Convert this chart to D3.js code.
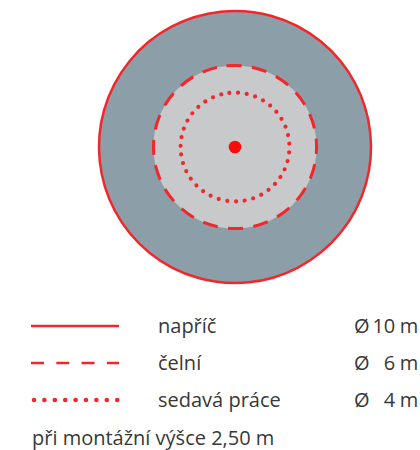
<!DOCTYPE html>
<html>
<head>
<meta charset="utf-8">
<script src="https://cdn.jsdelivr.net/npm/d3@7"></script>
<style>
  body { margin: 0; background: #fff; }
  text { font-family: "Open Sans", sans-serif; fill: #383838; }
</style>
</head>
<body>
<svg id="chart" width="420" height="450"></svg>
<script>
  // zones of the sensor, diameter in metres
  var labels = ["napříč", "čelní", "sedavá práce"];
  var diameters = [10, 6, 4];
  var diamText = ["10 m", "6 m", "4 m"];
  var styles = ["solid", "dashed", "dotted"];
  var note = "při montážní výšce 2,50 m";

  var red = "#f3262c";
  var svg = d3.select("#chart");

  var cx = 235, cy = 147;
  var r = d3.scaleLinear().domain([0, 5]).range([0, 136]);

  function dashFor(style, len, count) {
    if (style == "dashed") {
      var p = len / count;
      return (p * 0.59) + " " + (p * 0.41);
    }
    if (style == "dotted") return "0 " + (len / count);
    return null;
  }

  var g = svg.append("g").attr("transform", "translate(" + cx + "," + cy + ")");

  // filled discs
  g.append("circle").attr("r", r(diameters[0] / 2)).attr("fill", "#8c9fa8");
  g.append("circle").attr("r", r(diameters[1] / 2)).attr("fill", "#c8c9cb");

  var counts = [1, 20, 39];
  g.selectAll("circle.zone")
    .data(diameters)
    .enter()
    .append("circle")
    .attr("class", "zone")
    .attr("r", function(d) { return r(d / 2); })
    .attr("fill", "none")
    .attr("stroke", red)
    .attr("stroke-width", function(d, i) { return styles[i] == "dotted" ? 4.2 : (styles[i] == "dashed" ? 3 : 2.5); })
    .attr("stroke-linecap", function(d, i) { return styles[i] == "dotted" ? "round" : "butt"; })
    .attr("stroke-dasharray", function(d, i) {
      return dashFor(styles[i], 2 * Math.PI * r(d / 2), counts[i]);
    })
    .attr("transform", "rotate(-96)");

  g.append("circle").attr("r", 6.3).attr("fill", "#ff0a0a");

  // legend
  var y = d3.scalePoint().domain(labels).range([326, 400]);
  var lx = d3.scaleLinear().domain([0, 1]).range([31, 119]);

  var rows = svg.selectAll("g.row")
    .data(labels)
    .enter()
    .append("g")
    .attr("class", "row")
    .attr("transform", function(d) { return "translate(0," + y(d) + ")"; });

  rows.append("line")
    .attr("x1", function(d, i) { return styles[i] == "dotted" ? lx(0) + 3 : lx(0); })
    .attr("x2", function(d, i) { return styles[i] == "dotted" ? lx(1) - 1.5 : lx(1); })
    .attr("stroke", red)
    .attr("stroke-width", function(d, i) { return styles[i] == "dotted" ? 4.6 : 2.6; })
    .attr("stroke-linecap", function(d, i) { return styles[i] == "dotted" ? "round" : "butt"; })
    .attr("stroke-dasharray", function(d, i) {
      if (styles[i] == "dashed") return "13 12.3";
      if (styles[i] == "dotted") return "0 10.4";
      return null;
    });

  rows.append("text")
    .attr("x", 158)
    .attr("y", 7)
    .attr("font-size", 20)
    .text(function(d) { return d; });

  rows.append("text")
    .attr("x", 354)
    .attr("y", 7)
    .attr("font-size", 20)
    .text("Ø");

  rows.append("text")
    .attr("x", 418)
    .attr("y", 7)
    .attr("font-size", 20)
    .attr("text-anchor", "end")
    .attr("letter-spacing", -0.3)
    .text(function(d, i) { return diamText[i]; });

  svg.append("text")
    .attr("x", 32)
    .attr("y", 445)
    .attr("font-size", 20)
    .text(note);
</script>
</body>
</html>
